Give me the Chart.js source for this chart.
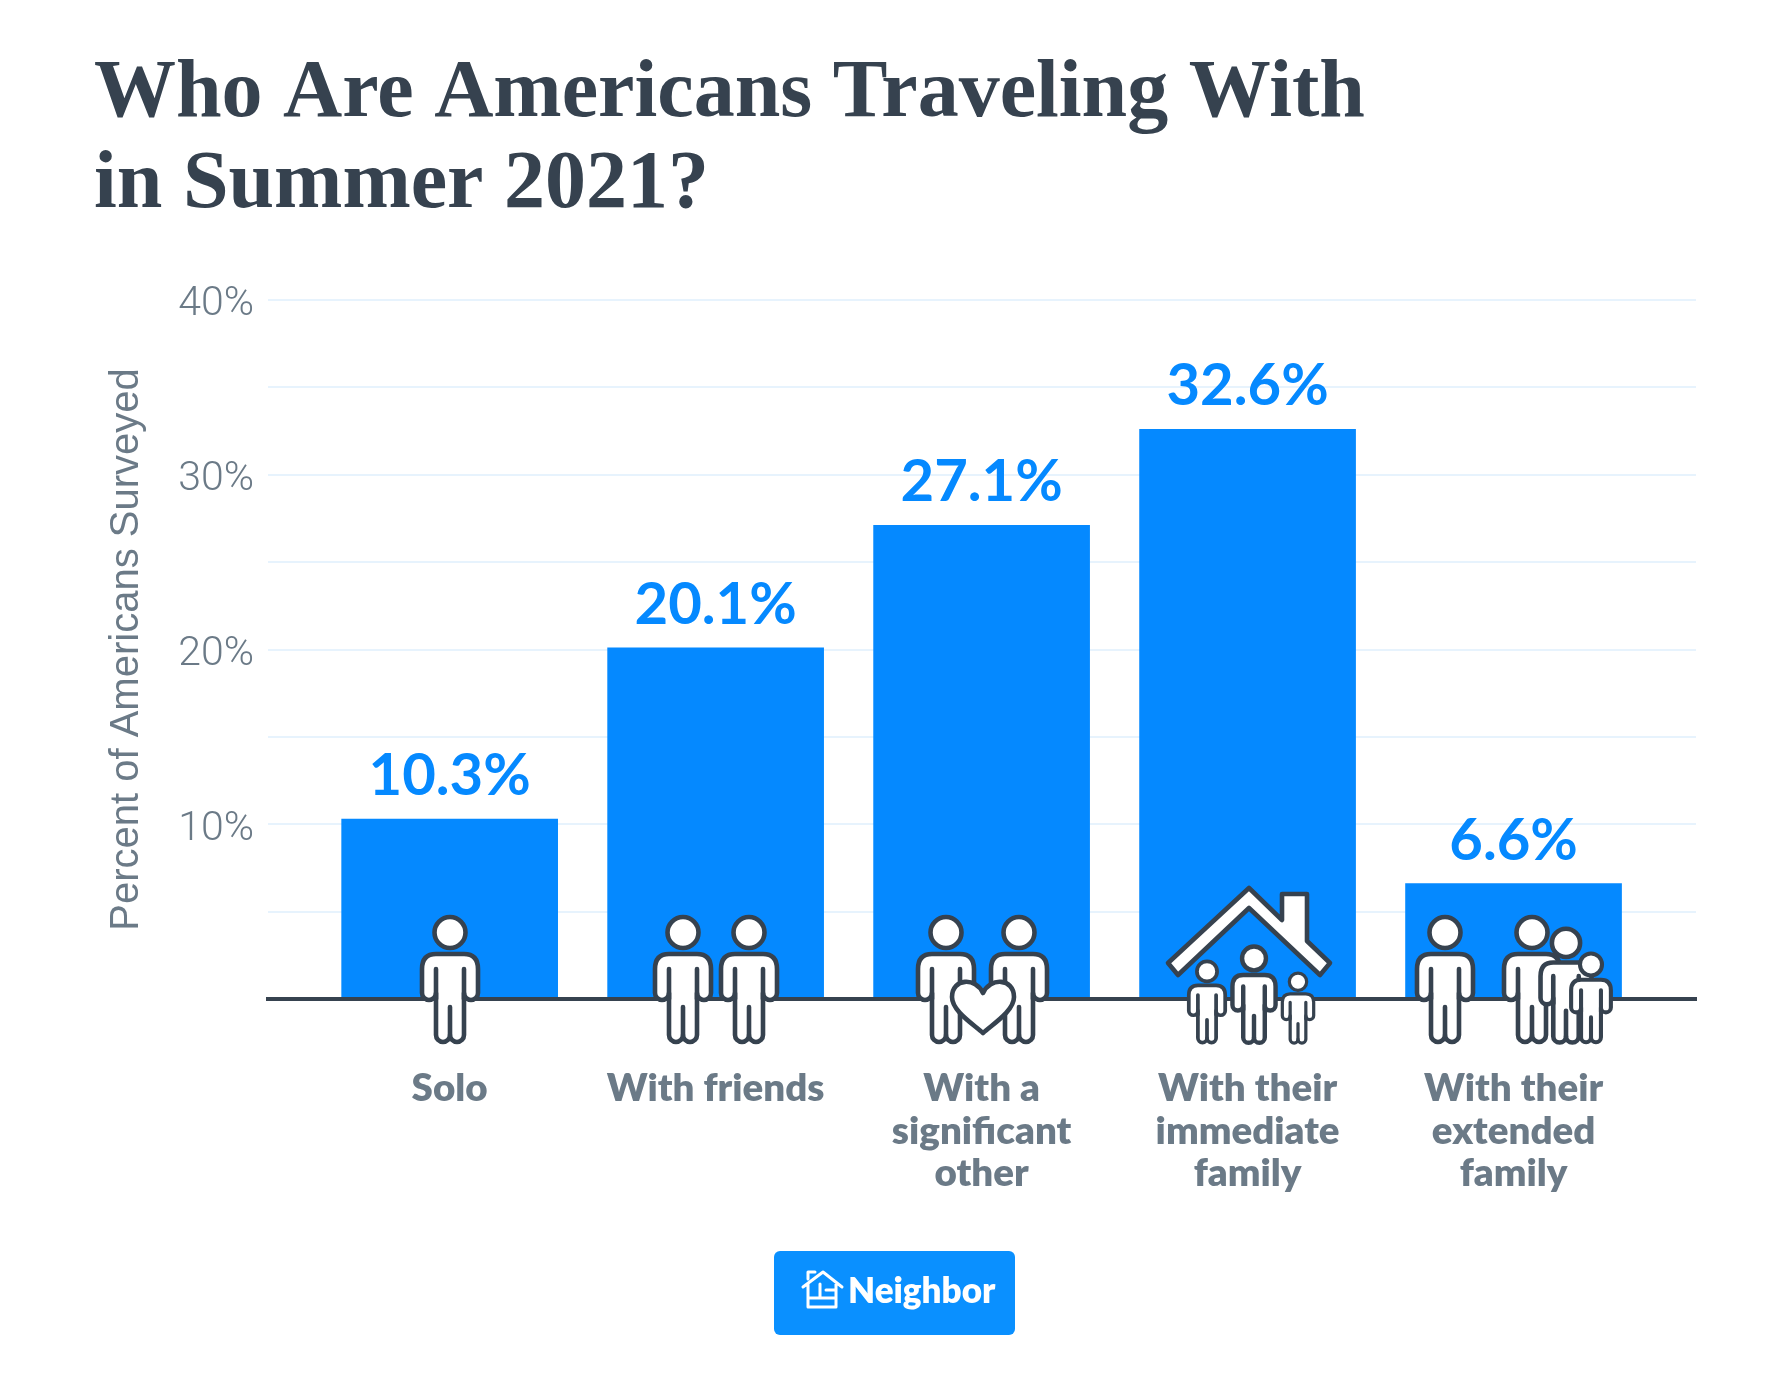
<!DOCTYPE html>
<html>
<head>
<meta charset="utf-8">
<title>Who Are Americans Traveling With in Summer 2021?</title>
<script src="https://cdn.jsdelivr.net/npm/chart.js@4"></script>
<style>
  html, body { margin: 0; background: #fff; }
  canvas { display: block; }
</style>
</head>
<body>
<canvas id="myChart" width="1789" height="1399"></canvas>
<script>
const titleLines = ['Who Are Americans Traveling With', 'in Summer 2021?']
const categories = [
    ['Solo'],
    ['With friends'],
    ['With a', 'significant', 'other'],
    ['With their', 'immediate', 'family'],
    ['With their', 'extended', 'family']
]
const percents = [10.3, 20.1, 27.1, 32.6, 6.6]
const yLabelEvery = 10

const dark = '#36424f'
const blue = '#0589ff'
const slate = '#6b7a87'

// little outlined person, cx is the middle, top is the top of the head
function person(ctx, cx, top, s) {
    ctx.save()
    ctx.translate(cx, top)
    ctx.scale(s, s)
    ctx.lineWidth = 4.6 / Math.max(s, 0.8)
    ctx.strokeStyle = dark
    ctx.fillStyle = '#fff'
    ctx.lineJoin = 'round'
    ctx.lineCap = 'round'

    ctx.beginPath()
    ctx.ellipse(0, 17.5, 15.5, 15.5, 0, 0, Math.PI * 2)
    ctx.fill()
    ctx.stroke()

    ctx.beginPath()
    ctx.moveTo(-14, 39)
    ctx.lineTo(14, 39)
    ctx.quadraticCurveTo(28, 39, 28, 54)
    ctx.lineTo(28, 78)
    ctx.arc(21, 78, 7, 0, Math.PI)
    ctx.lineTo(14, 120)
    ctx.arc(7, 120, 7, 0, Math.PI)
    ctx.arc(-7, 120, 7, 0, Math.PI)
    ctx.lineTo(-14, 78)
    ctx.arc(-21, 78, 7, 0, Math.PI)
    ctx.lineTo(-28, 54)
    ctx.quadraticCurveTo(-28, 39, -14, 39)
    ctx.closePath()
    ctx.fill()
    ctx.stroke()

    ctx.beginPath()
    ctx.moveTo(-14, 54); ctx.lineTo(-14, 84)
    ctx.moveTo(14, 54); ctx.lineTo(14, 84)
    ctx.moveTo(0, 92); ctx.lineTo(0, 120)
    ctx.stroke()
    ctx.restore()
}

function heart(ctx, cx, cy) {
    ctx.save()
    ctx.translate(cx, cy)
    ctx.fillStyle = '#fff'
    ctx.strokeStyle = dark
    ctx.lineWidth = 4.6
    ctx.lineJoin = 'round'
    ctx.beginPath()
    ctx.moveTo(0, 26)
    ctx.bezierCurveTo(-10, 17, -31, 4, -31, -10)
    ctx.bezierCurveTo(-31, -29, -7, -30, 0, -14)
    ctx.bezierCurveTo(7, -30, 31, -29, 31, -10)
    ctx.bezierCurveTo(31, 4, 10, 17, 0, 26)
    ctx.closePath()
    ctx.fill()
    ctx.stroke()
    ctx.restore()
}

function house(ctx) {
    ctx.save()
    ctx.fillStyle = '#fff'
    ctx.strokeStyle = dark
    ctx.lineWidth = 4.6
    ctx.lineJoin = 'round'
    ctx.beginPath()
    ctx.moveTo(1249, 888)
    ctx.lineTo(1282, 920)
    ctx.lineTo(1282, 894)
    ctx.lineTo(1307, 894)
    ctx.lineTo(1307, 941)
    ctx.lineTo(1330, 963)
    ctx.lineTo(1320, 975)
    ctx.lineTo(1249, 908)
    ctx.lineTo(1178, 975)
    ctx.lineTo(1168, 963)
    ctx.closePath()
    ctx.fill()
    ctx.stroke()
    ctx.restore()
}

// the icons stand on the baseline, one group per category
const iconsPlugin = {
    id: 'icons',
    afterDraw(chart) {
        const ctx = chart.ctx
        person(ctx, 450, 915, 1)

        person(ctx, 683, 915, 1)
        person(ctx, 749, 915, 1)

        person(ctx, 946, 915, 1)
        person(ctx, 1019, 915, 1)
        heart(ctx, 983, 1007)

        house(ctx)
        person(ctx, 1207, 960, 0.65)
        person(ctx, 1254, 945, 0.77)
        person(ctx, 1298, 972, 0.56)

        person(ctx, 1445, 915, 1)
        person(ctx, 1532, 915, 1)
        person(ctx, 1566, 927, 0.91)
        person(ctx, 1591, 952, 0.71)
    }
}

const valueLabels = {
    id: 'valueLabels',
    afterDatasetsDraw(chart) {
        const ctx = chart.ctx
        const meta = chart.getDatasetMeta(0)
        ctx.save()
        ctx.fillStyle = blue
        ctx.font = '700 58px Lato'
        ctx.textAlign = 'center'
        ctx.textBaseline = 'alphabetic'
        meta.data.forEach((bar, i) => {
            ctx.fillText(percents[i] + '%', bar.x, bar.y - 24)
        })
        ctx.restore()
    }
}

// Neighbor badge under the chart
const badge = {
    id: 'badge',
    afterDraw(chart) {
        const ctx = chart.ctx
        ctx.save()
        ctx.fillStyle = '#0a90ff'
        ctx.beginPath()
        ctx.roundRect(774, 1251, 241, 84, 6)
        ctx.fill()

        ctx.strokeStyle = '#fff'
        ctx.lineWidth = 3
        ctx.lineJoin = 'round'
        ctx.lineCap = 'round'
        ctx.beginPath()
        ctx.moveTo(803, 1287); ctx.lineTo(823, 1272); ctx.lineTo(842, 1287)
        ctx.moveTo(808, 1284); ctx.lineTo(808, 1307); ctx.lineTo(836, 1307); ctx.lineTo(836, 1284)
        ctx.moveTo(808, 1298); ctx.lineTo(836, 1298)
        ctx.moveTo(820, 1284); ctx.lineTo(820, 1298)
        ctx.moveTo(826, 1290); ctx.lineTo(836, 1290)
        ctx.moveTo(808, 1279); ctx.lineTo(808, 1272); ctx.lineTo(815, 1272)
        ctx.stroke()

        ctx.fillStyle = '#fff'
        ctx.font = '800 35px Lato'
        ctx.textAlign = 'left'
        ctx.textBaseline = 'alphabetic'
        ctx.fillText('Neighbor', 848, 1303)
        ctx.restore()
    }
}

const chart = document.querySelector('#myChart').getContext('2d')

const data = {
    datasets: [{
        data: percents.map((p, i) => ({ x: i, y: p })),
        backgroundColor: blue,
        barThickness: 216
    }]
}

const config = {
    type: 'bar',
    data: data,
    plugins: [valueLabels, iconsPlugin, badge],
    options: {
        responsive: false,
        animation: false,
        layout: { padding: { left: 94, right: 93, top: 0, bottom: 0 } },
        plugins: {
            legend: { display: false },
            tooltip: { enabled: false },
            title: {
                display: true,
                text: titleLines,
                align: 'start',
                color: dark,
                font: { family: 'Liberation Serif', size: 82, weight: 700, lineHeight: 1.116 },
                padding: { top: 49, bottom: 68 }
            }
        },
        scales: {
            x: {
                type: 'linear',
                offset: false,
                // wider than the bars so the rules run past them on both sides
                min: -0.683,
                max: 4.686,
                afterBuildTicks(scale) {
                    scale.ticks = categories.map((c, i) => ({ value: i }))
                },
                afterFit(scale) {
                    scale.height = 400
                },
                grid: { display: false, offset: false },
                border: { color: dark, width: 4, z: 1 },
                ticks: {
                    autoSkip: false,
                    maxRotation: 0,
                    padding: 60,
                    color: slate,
                    font: { family: 'Lato', size: 38.5, weight: 800, lineHeight: 1.112 },
                    callback: v => categories[v]
                }
            },
            y: {
                min: 0,
                max: 40,
                afterFit(scale) {
                    scale.width = 174
                },
                grid: { color: '#e7f3fd', lineWidth: 2, drawTicks: false },
                border: { display: false },
                ticks: {
                    stepSize: 5,
                    padding: 14,
                    labelOffset: 5,
                    color: slate,
                    font: { family: 'Roboto', size: 41, weight: 300 },
                    callback: v => v % yLabelEvery === 0 && v > 0 ? v + '%' : ''
                },
                title: {
                    display: true,
                    text: 'Percent of Americans Surveyed',
                    color: slate,
                    font: { family: 'Liberation Sans', size: 40, weight: 400 },
                    padding: { top: 9, bottom: 0 }
                }
            }
        }
    }
}

const myChart = new Chart(chart, config)
</script>
</body>
</html>
